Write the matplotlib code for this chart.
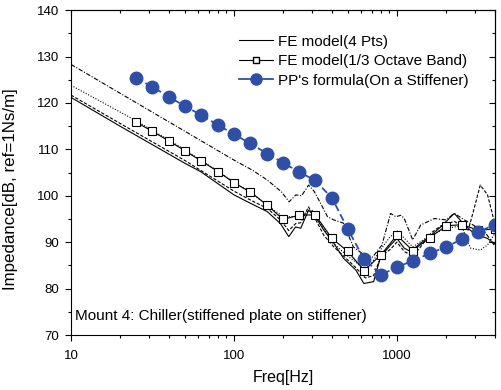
import matplotlib
matplotlib.use("Agg")
import matplotlib.pyplot as plt
from matplotlib.ticker import MultipleLocator, LogLocator, NullFormatter, FuncFormatter
from matplotlib.lines import Line2D

plt.rcParams['font.family'] = ['Liberation Sans', 'DejaVu Sans']

# FE model, 4 points (narrow band)
f_pt1 = [10, 20, 50, 62.5, 100, 126, 160, 193, 217, 239, 257, 287, 316, 356, 410, 471, 560,
         627, 720, 795, 915, 1000, 1110, 1215, 1400, 1620, 1860, 2250, 2600, 2970, 3600, 4000]
z_pt1 = [121.2, 115.0, 107.0, 105.2, 100.2, 98.4, 96.6, 94.0, 91.2, 93.3, 93.0, 96.9, 95.5, 92.6, 89.8, 86.5, 84.0,
         81.1, 81.5, 86.9, 89.4, 90.8, 88.7, 88.0, 89.8, 91.5, 93.3, 96.2, 93.7, 91.9, 90.8, 89.6]

f_pt2 = [10, 20, 50, 100, 126, 160, 193, 217, 239, 257, 287, 316, 356, 410, 471, 560, 640,
         720, 800, 915, 1000, 1110, 1250, 1400, 1620, 1860, 2250, 2600, 2740, 2960, 3250, 3600, 3850, 4000]
z_pt2 = [121.7, 115.6, 107.6, 101.0, 99.1, 97.3, 94.8, 92.5, 94.0, 94.2, 97.6, 95.0, 91.5, 89.0, 87.0, 84.5, 82.3,
         82.8, 87.0, 88.5, 90.0, 88.0, 87.0, 89.0, 92.0, 93.5, 94.5, 93.0, 92.6, 96.9, 102.3, 100.2, 96.2, 93.5]

f_pt3 = [10, 25, 31.5, 40, 50, 63, 80, 100, 125, 160, 200, 250, 300, 340, 400, 500, 630, 700,
         800, 900, 1000, 1250, 1600, 2000, 2500, 2740, 2840, 3250, 3600, 4000]
z_pt3 = [123.8, 116.2, 114.1, 112.0, 109.9, 107.6, 105.3, 102.9, 100.9, 98.0, 95.5, 95.5, 97.0, 94.0, 90.0, 87.0, 84.3, 85.5,
         88.5, 91.0, 92.5, 89.0, 91.5, 93.0, 93.5, 89.8, 88.7, 88.3, 89.4, 91.9]

f_pt4 = [10, 20, 50, 100, 130, 160, 195, 218, 240, 260, 287, 310, 340, 375, 410, 470, 540,
         610, 710, 810, 915, 985, 1060, 1110, 1250, 1400, 1700, 2000, 2250, 2600, 3000, 3450, 3950]
z_pt4 = [128.3, 122.1, 113.9, 107.7, 105.5, 103.4, 100.9, 98.7, 100.2, 100.0, 102.3, 101.0, 98.4, 95.5, 94.8, 94.1, 89.0,
         87.6, 86.8, 89.4, 96.2, 95.5, 95.8, 95.1, 90.5, 93.7, 95.1, 94.8, 96.2, 94.8, 93.5, 92.3, 89.4]

# 1/3 octave bands
f_band = [25, 31.5, 40, 50, 63, 80, 100, 125, 160, 200, 250, 315, 400, 500, 630, 800,
          1000, 1250, 1600, 2000, 2500, 3150, 4000]
z_band = [115.9, 113.9, 111.8, 109.7, 107.5, 105.2, 102.8, 100.9, 98.0, 94.9, 95.8, 95.9, 90.8, 88.0, 83.9, 87.3,
          91.5, 88.2, 91.0, 93.5, 93.8, 92.6, 92.8]
z_pp = [125.4, 123.5, 121.3, 119.3, 117.4, 115.2, 113.3, 111.3, 109.1, 107.1, 105.2, 103.3, 99.5, 92.8, 86.3, 83.0,
        84.6, 86.0, 87.6, 89.0, 90.6, 92.2, 93.8]

blue = '#2f4fa6'

fig = plt.figure(figsize=(5.01, 3.90), dpi=100)
ax = fig.add_axes([0.1417, 0.141, 0.8463, 0.833])

ax.plot(f_pt4, z_pt4, color='black', lw=0.8, ls=(0, (4, 1.5, 1, 1.5)))
ax.plot(f_pt3, z_pt3, color='black', lw=0.8, ls=(0, (1, 1.5)))
ax.plot(f_pt2, z_pt2, color='black', lw=0.8, ls=(0, (3, 1.5)))
ax.plot(f_pt1, z_pt1, color='black', lw=0.8, ls='-')
ax.plot(f_band, z_band, color='black', lw=0.8, marker='s', ms=5.5, mfc='white', mec='black', mew=0.8)
ax.plot(f_band, z_pp, color=blue, lw=1.3, ls=(0, (4, 2)), marker='o', ms=9, mfc=blue, mec=blue)

ax.set_xscale('log')
ax.set_xlim(10, 4000)
ax.set_ylim(70, 140)
ax.yaxis.set_major_locator(MultipleLocator(10))
ax.yaxis.set_minor_locator(MultipleLocator(5))
ax.xaxis.set_major_locator(LogLocator(base=10))
ax.xaxis.set_minor_locator(LogLocator(base=10, subs=range(2, 10)))
ax.xaxis.set_minor_formatter(NullFormatter())
ax.xaxis.set_major_formatter(FuncFormatter(lambda v, p: f'{v:g}'))
ax.tick_params(which='both', direction='out', labelsize=9.5, width=0.8)
ax.tick_params(which='major', length=4.5, pad=4)
ax.tick_params(which='minor', length=2.5)
ax.tick_params(axis='x', which='major', pad=6)

# inward ticks on top and right
top = ax.secondary_xaxis('top')
top.xaxis.set_major_locator(LogLocator(base=10))
top.xaxis.set_minor_locator(LogLocator(base=10, subs=range(2, 10)))
top.tick_params(which='both', direction='in', labeltop=False, width=0.8)
top.tick_params(which='major', length=4.5)
top.tick_params(which='minor', length=2.5)
right = ax.secondary_yaxis('right')
right.yaxis.set_major_locator(MultipleLocator(10))
right.yaxis.set_minor_locator(MultipleLocator(5))
right.tick_params(which='both', direction='in', labelright=False, width=0.8)
right.tick_params(which='major', length=4.5)
right.tick_params(which='minor', length=2.5)

ax.set_xlabel('Freq[Hz]', fontsize=11.5, labelpad=6)
ax.set_ylabel('Impedance[dB, ref=1Ns/m]', fontsize=12.2)
ax.yaxis.set_label_coords(-0.125, 0.449)

ax.text(0.01, 0.058, 'Mount 4: Chiller(stiffened plate on stiffener)', transform=ax.transAxes,
        fontsize=11, va='center', ha='left')

handles = [
    Line2D([], [], color='black', lw=0.8),
    Line2D([], [], color='black', lw=0.8, marker='s', ms=4, mfc='white', mec='black'),
    Line2D([], [], color=blue, lw=1.3, marker='o', ms=8, mfc=blue, mec=blue),
]
labels = ['FE model(4 Pts)', 'FE model(1/3 Octave Band)', "PP's formula(On a Stiffener)"]
ax.legend(handles, labels, loc='upper left', bbox_to_anchor=(0.396, 0.925), frameon=False,
          fontsize=11, handlelength=2.2, handletextpad=0.35, labelspacing=0.36, borderpad=0,
          borderaxespad=0)

fig.savefig('out.png', dpi=100)
